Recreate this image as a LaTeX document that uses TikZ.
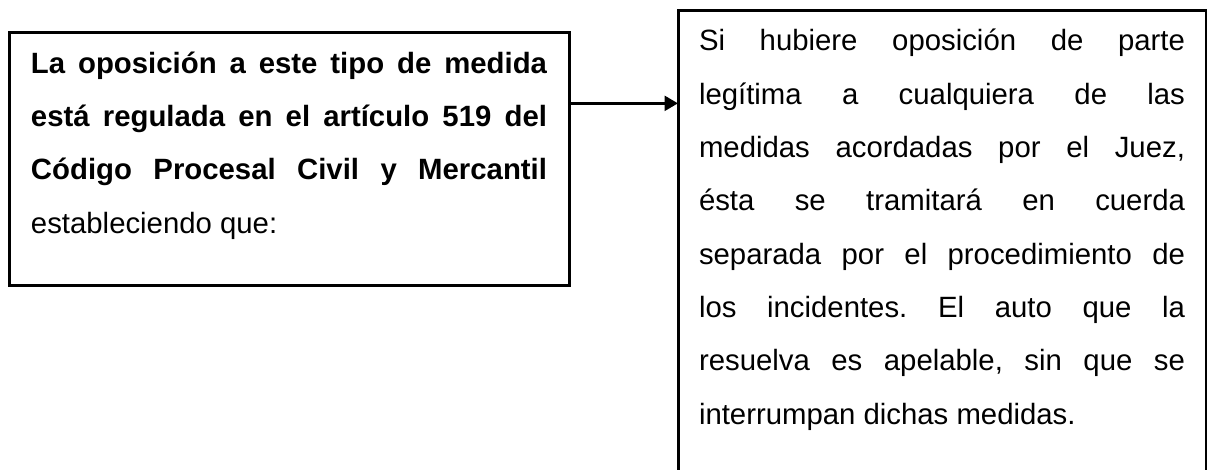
\documentclass[tikz,border=0pt]{standalone}
\usepackage{fontspec}
\setmainfont{Liberation Sans}
\usepackage{tikz}
\usetikzlibrary{positioning,calc}
\usetikzlibrary{arrows.meta}
\tikzset{caja/.style={rectangle, draw, line width=2.25pt, outer sep=0pt, anchor=north west},
         flecha/.style={-{Triangle[length=10pt,width=11pt]}, line width=2.25pt}
}
\newcommand{\textocaja}[3]{\parbox[c][#1][t]{#2}{\fontsize{22pt}{40pt}\selectfont
  \frenchspacing\hyphenpenalty=10000\strut #3}}

\begin{document}
\begin{tikzpicture}[x=0.75pt,y=-0.75pt]
    \useasboundingbox (0,0) rectangle (1207,470);
            %             B
            %   A  --->   B
            %             B
        \node[caja, inner xsep=16.5pt, inner ysep=2.4pt] (A) at (9,32.5)
            {\textocaja{185pt}{387pt}{{\bfseries La oposición a este tipo de medida\linebreak
             está regulada en el artículo 519 del\linebreak
             Código Procesal Civil y Mercantil}\linebreak
             estableciendo que:}};
        \node[caja, inner xsep=15.75pt, inner ysep=1.8pt] (B) at (678,11)
            {\textocaja{360pt}{364.5pt}{Si hubiere oposición de parte\linebreak
             legítima a cualquiera de las\linebreak
             medidas acordadas por el Juez,\linebreak
             ésta se tramitará en cuerda\linebreak
             separada por el procedimiento de\linebreak
             los incidentes. El auto que la\linebreak
             resuelva es apelable, sin que se\linebreak
             interrumpan dichas medidas.}};
        \coordinate (p) at ($(A.north east)!0.28!(A.south east)$);
        \draw[flecha] (p) -- (p -| B.west);
\end{tikzpicture}
\end{document}
